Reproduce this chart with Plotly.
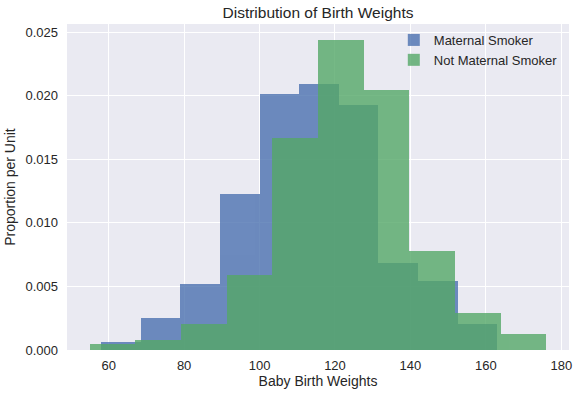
import plotly.graph_objects as go

# Bin edges and heights (proportion per unit)
smoker_edges = [58, 68.5, 79, 89.5, 100, 110.5, 121, 131.5, 142, 152.5, 163]
smoker_heights = [0.00062, 0.00249, 0.00519, 0.01224, 0.02013, 0.02096,
                  0.01930, 0.00685, 0.00540, 0.00208]

nonsmoker_edges = [55, 67.1, 79.2, 91.3, 103.4, 115.5, 127.6, 139.7, 151.8, 163.9, 176]
nonsmoker_heights = [0.00046, 0.00081, 0.00208, 0.00590, 0.01665, 0.02439,
                     0.02046, 0.00775, 0.00289, 0.00127]

x_ticks = [60, 80, 100, 120, 140, 160, 180]
y_ticks = [0.000, 0.005, 0.010, 0.015, 0.020, 0.025]


def centers(edges):
    return [(a + b) / 2 for a, b in zip(edges[:-1], edges[1:])]


def widths(edges):
    return [b - a for a, b in zip(edges[:-1], edges[1:])]


FONT = "Arial, Liberation Sans, Helvetica, sans-serif"
TXT = "#262626"

fig = go.Figure()
fig.add_trace(go.Bar(
    x=centers(smoker_edges), y=smoker_heights, width=widths(smoker_edges),
    name="Maternal Smoker", marker=dict(color="#4C72B0", line=dict(width=0)),
    opacity=0.8,
))
fig.add_trace(go.Bar(
    x=centers(nonsmoker_edges), y=nonsmoker_heights, width=widths(nonsmoker_edges),
    name="Not Maternal Smoker", marker=dict(color="#55A868", line=dict(width=0)),
    opacity=0.8,
))

fig.update_layout(
    width=579, height=396,
    barmode="overlay",
    bargap=0,
    paper_bgcolor="white",
    plot_bgcolor="#EAEAF2",
    margin=dict(l=67, r=10, t=24, b=46, autoexpand=False),
    font=dict(family=FONT, color=TXT, size=13),
    title=dict(text="Distribution of Birth Weights", x=0.5, xanchor="center",
               xref="paper", y=0.967, yanchor="middle",
               font=dict(size=15.5, color=TXT)),
    showlegend=True,
    legend=dict(x=0.651, y=0.997, xanchor="left", yanchor="top",
                bgcolor="rgba(0,0,0,0)", font=dict(size=13, color=TXT),
                itemwidth=30, tracegroupgap=0),
)
fig.update_xaxes(
    range=[48.95, 182.05], tickvals=x_ticks, ticktext=[str(v) for v in x_ticks],
    showgrid=True, gridcolor="white", gridwidth=1, zeroline=False,
    showline=False, ticks="", ticklabelstandoff=6, automargin=False,
    tickfont=dict(size=13, color=TXT),
    title=dict(text="Baby Birth Weights", font=dict(size=14, color=TXT), standoff=4),
)
fig.update_yaxes(
    range=[0, 0.02564], tickvals=y_ticks, ticktext=[f"{v:.3f}" for v in y_ticks],
    showgrid=True, gridcolor="white", gridwidth=1, zeroline=False,
    showline=False, ticks="", ticklabelstandoff=8, automargin=False,
    tickfont=dict(size=13, color=TXT),
    title=dict(text="Proportion per Unit", font=dict(size=14, color=TXT), standoff=6),
)

fig.write_html(
    "out.html",
    config={"displayModeBar": False},
    post_script="document.body.style.margin='0';document.body.style.overflow='hidden';",
)
